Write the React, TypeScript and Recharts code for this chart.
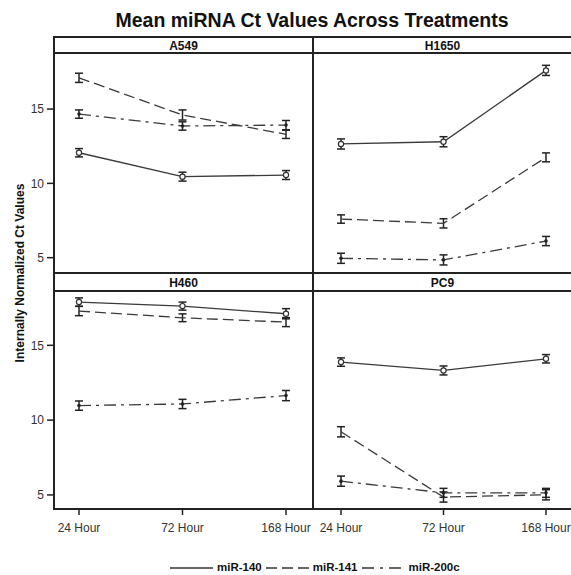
import { LineChart, Line, XAxis, YAxis, ErrorBar } from "recharts";

const TIMES = ["24 Hour", "72 Hour", "168 Hour"];
const MIRNAS = ["miR-140", "miR-141", "miR-200c"];
const CELL_LINES = ["A549", "H1650", "H460", "PC9"];

// mean Ct and error (half-height of the bar)
const A549_140 = [12.06, 10.45, 10.56];
const A549_140_ERR = [0.28, 0.3, 0.3];
const A549_141 = [17.1, 14.6, 13.3];
const A549_141_ERR = [0.31, 0.34, 0.28];
const A549_200C = [14.66, 13.86, 13.92];
const A549_200C_ERR = [0.28, 0.28, 0.31];

const H1650_140 = [12.65, 12.8, 17.6];
const H1650_140_ERR = [0.34, 0.34, 0.34];
const H1650_141 = [7.6, 7.31, 11.75];
const H1650_141_ERR = [0.28, 0.31, 0.3];
const H1650_200C = [4.96, 4.85, 6.12];
const H1650_200C_ERR = [0.34, 0.34, 0.31];

const H460_140 = [17.89, 17.62, 17.11];
const H460_140_ERR = [0.28, 0.27, 0.34];
const H460_141 = [17.29, 16.84, 16.55];
const H460_141_ERR = [0.31, 0.26, 0.3];
const H460_200C = [10.97, 11.08, 11.64];
const H460_200C_ERR = [0.31, 0.31, 0.34];

const PC9_140 = [13.88, 13.32, 14.1];
const PC9_140_ERR = [0.28, 0.3, 0.28];
const PC9_141 = [9.22, 4.86, 5.01];
const PC9_141_ERR = [0.34, 0.34, 0.34];
const PC9_200C = [5.92, 5.14, 5.14];
const PC9_200C_ERR = [0.34, 0.3, 0.3];

const Y_TICKS = [5, 10, 15];

const FONT = "'Liberation Sans', Arial, sans-serif";
const INK = "#222";

function rows(v140: number[], e140: number[], v141: number[], e141: number[], v200: number[], e200: number[]) {
  return TIMES.map((t, i) => ({
    time: t,
    m140: v140[i], m140e: e140[i],
    m141: v141[i], m141e: e141[i],
    m200c: v200[i], m200ce: e200[i],
  }));
}

const PANELS = [
  rows(A549_140, A549_140_ERR, A549_141, A549_141_ERR, A549_200C, A549_200C_ERR),
  rows(H1650_140, H1650_140_ERR, H1650_141, H1650_141_ERR, H1650_200C, H1650_200C_ERR),
  rows(H460_140, H460_140_ERR, H460_141, H460_141_ERR, H460_200C, H460_200C_ERR),
  rows(PC9_140, PC9_140_ERR, PC9_141, PC9_141_ERR, PC9_200C, PC9_200C_ERR),
];

const DASHES = [undefined, "11 5", "12 5 3 5"];

const openDot = (p: any) => (
  <circle key={`o-${p.index}`} cx={p.cx} cy={p.cy} r={2.6} fill="#fff" stroke="#333" strokeWidth={1.2} />
);
const solidDot = (p: any) => (
  <circle key={`s-${p.index}`} cx={p.cx} cy={p.cy} r={1.8} fill="#222" stroke="none" />
);
const DOTS: any[] = [openDot, false, solidDot];
const KEYS = ["m140", "m141", "m200c"];

interface PanelProps {
  data: any[];
  left: number;
  top: number;
  width: number;
  height: number;
  showY: boolean;
  showX: boolean;
  pad: { left: number; right: number };
  domain: [number, number];
}

function Panel({ data, left, top, width, height, showY, showX, pad, domain }: PanelProps) {
  return (
    <div style={{ position: "absolute", left, top }}>
      <LineChart width={width} height={height} data={data} margin={{ top: 0, right: 0, left: 0, bottom: 0 }}>
        <XAxis
          dataKey="time"
          hide={!showX}
          padding={pad}
          interval={0}
          axisLine={false}
          tickSize={6}
          tickMargin={8}
          height={40}
          tickLine={{ stroke: INK, strokeWidth: 1.5 }}
          tick={{ fill: "#333", fontSize: 12, fontFamily: FONT }}
        />
        <YAxis
          type="number"
          domain={domain}
          allowDataOverflow
          ticks={Y_TICKS}
          interval={0}
          hide={!showY}
          width={54}
          axisLine={false}
          tickSize={7}
          tickMargin={3}
          tickLine={{ stroke: INK, strokeWidth: 1.5 }}
          tick={{ fill: "#333", fontSize: 12, fontFamily: FONT }}
        />
        {KEYS.map((k, i) => (
          <Line
            key={k}
            type="linear"
            dataKey={k}
            name={MIRNAS[i]}
            stroke="#3a3a3a"
            strokeWidth={1.3}
            strokeDasharray={DASHES[i]}
            dot={DOTS[i]}
            activeDot={false}
            isAnimationActive={false}
          >
            <ErrorBar dataKey={`${k}e`} width={4} stroke={INK} strokeWidth={1.5} direction="y" isAnimationActive={false} />
          </Line>
        ))}
      </LineChart>
    </div>
  );
}

const hLine = (top: number, left = 53, width = 530) => (
  <div style={{ position: "absolute", left, top, width, height: 2, background: INK }} />
);
const vLine = (left: number) => (
  <div style={{ position: "absolute", left, top: 36, width: 2, height: 474, background: INK }} />
);

function Strip({ label, left, top, width, height }: { label: string; left: number; top: number; width: number; height: number }) {
  return (
    <div
      style={{
        position: "absolute", left, top, width, height,
        display: "flex", alignItems: "center", justifyContent: "center",
        fontSize: 12, fontWeight: "bold", color: "#111",
      }}
    >
      {label}
    </div>
  );
}

function LegendSwatch({ dash }: { dash?: string }) {
  return (
    <svg width={43} height={10} style={{ display: "block" }}>
      <line x1={0} y1={5} x2={43} y2={5} stroke="#333" strokeWidth={1.4} strokeDasharray={dash} />
    </svg>
  );
}

export default function App() {
  const topDomain: [number, number] = [3.97, 18.77];
  const botDomain: [number, number] = [4.06, 18.63];
  return (
    <div
      style={{
        position: "absolute", left: 0, top: 0, width: 571, height: 575,
        overflow: "hidden", background: "#fff", fontFamily: FONT, color: "#111",
      }}
    >
      <div style={{ position: "absolute", left: 0, top: 10, width: 624, textAlign: "center", fontSize: 19.5, lineHeight: "20px", fontWeight: "bold" }}>
        Mean miRNA Ct Values Across Treatments
      </div>

      <div
        style={{
          position: "absolute", left: 19.5 - 150, top: 273 - 8, width: 300, height: 16,
          lineHeight: "16px", textAlign: "center", fontSize: 12, fontWeight: "bold",
          transform: "rotate(-90deg)",
        }}
      >
        Internally Normalized Ct Values
      </div>

      <Strip label={CELL_LINES[0]} left={54} top={38} width={259} height={15} />
      <Strip label={CELL_LINES[1]} left={314} top={38} width={257} height={15} />
      <Strip label={CELL_LINES[2]} left={54} top={274} width={259} height={17} />
      <Strip label={CELL_LINES[3]} left={314} top={274} width={257} height={17} />

      <Panel data={PANELS[0]} left={0} top={53} width={313} height={220} showY showX={false} pad={{ left: 25, right: 27 }} domain={topDomain} />
      <Panel data={PANELS[1]} left={313} top={53} width={258} height={220} showY={false} showX={false} pad={{ left: 28, right: 25 }} domain={topDomain} />
      <Panel data={PANELS[2]} left={0} top={291} width={313} height={258} showY showX pad={{ left: 25, right: 27 }} domain={botDomain} />
      <Panel data={PANELS[3]} left={313} top={291} width={258} height={258} showY={false} showX pad={{ left: 28, right: 25 }} domain={botDomain} />

      {hLine(36)}
      {hLine(52)}
      {hLine(272)}
      {hLine(290)}
      {hLine(508)}
      {vLine(53)}
      {vLine(312)}

      <div
        style={{
          position: "absolute", left: 170, top: 561, height: 13, lineHeight: "13px",
          display: "flex", alignItems: "center", fontSize: 11.5, fontWeight: "bold", whiteSpace: "nowrap",
        }}
      >
        {MIRNAS.map((m, i) => (
          <div key={m} style={{ display: "flex", alignItems: "center", marginRight: 4 }}>
            <LegendSwatch dash={i === 0 ? undefined : i === 1 ? "11 5" : "12 6 3 6"} />
            <span style={{ marginLeft: 4 }}>{m}</span>
          </div>
        ))}
      </div>
    </div>
  );
}
